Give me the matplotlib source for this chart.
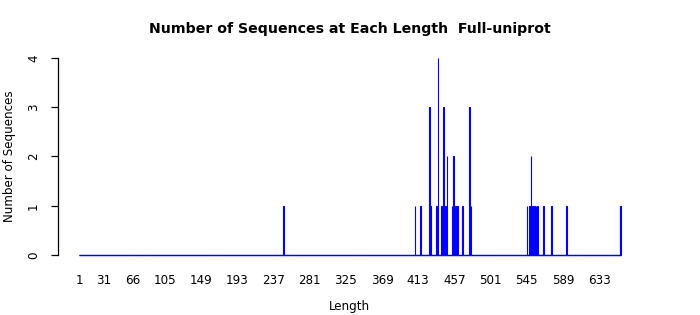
import numpy as np
import matplotlib
matplotlib.use("Agg")
import matplotlib.pyplot as plt

# lengths that have at least one sequence, and how many
lengths = [249, 409, 416, 427, 428, 435, 437, 441, 442, 444, 446, 448, 454,
           456, 458, 460, 461, 467, 475, 477, 545, 548, 550, 552, 554, 556,
           558, 565, 575, 593, 658, 659]
counts = [1, 1, 1, 3, 1, 1, 4, 1, 1, 3, 1, 2, 1, 2, 1, 1, 1, 1, 3, 1,
          1, 1, 2, 1, 1, 1, 1, 1, 1, 1, 1, 1]
max_length = 659

x_tick_labels = [1, 31, 66, 105, 149, 193, 237, 281, 325, 369, 413, 457,
                 501, 545, 589, 633]
y_ticks = [0, 1, 2, 3, 4]

title = "Number of Sequences at Each Length  Full-uniprot"


def bar_lengths(lengths, counts, max_length):
    # every length from 1..max gets a bar, most of them empty
    all_lengths = np.arange(1, max_length + 1)
    all_counts = np.zeros(max_length)
    for l, c in zip(lengths, counts):
        all_counts[l - 1] = c
    return all_lengths, all_counts


def plot_counts():
    x, y = bar_lengths(lengths, counts, max_length)

    fig = plt.figure(figsize=(7, 3.15), dpi=100)
    ax = fig.add_axes([58 / 700, 52 / 315, 583 / 700, 214 / 315])

    ax.bar(x, y, width=0.8, color="blue", edgecolor="blue", linewidth=0.8)
    # empty bars still show their bottom border in the original
    ax.hlines(0, x[0] - 0.4, x[-1] + 0.4, color="blue", linewidth=1.0)

    ax.set_xlim(-24.8, 683.7)
    ax.set_ylim(-0.16, 4.18)

    for s in ["top", "right", "bottom"]:
        ax.spines[s].set_visible(False)
    ax.spines["left"].set_bounds(0, 4)
    ax.spines["left"].set_linewidth(0.9)

    ax.set_yticks(y_ticks)
    ax.set_yticklabels([str(t) for t in y_ticks], rotation=90, va="center",
                       fontsize=8.6)
    ax.tick_params(axis="y", length=5, width=0.9, pad=8)

    ax.set_xticks(x_tick_labels)
    ax.set_xticklabels([str(t) for t in x_tick_labels], fontsize=8.6)
    ax.tick_params(axis="x", length=0, pad=8)

    ax.set_xlabel("Length", fontsize=8.6, labelpad=9)
    ax.set_ylabel("Number of Sequences", fontsize=8.6, labelpad=8)

    fig.suptitle(title, fontsize=10.2, fontweight="bold", x=0.5,
                 y=1 - 29 / 315, va="center")

    fig.savefig("out.png", dpi=100)


if __name__ == "__main__":
    plot_counts()
